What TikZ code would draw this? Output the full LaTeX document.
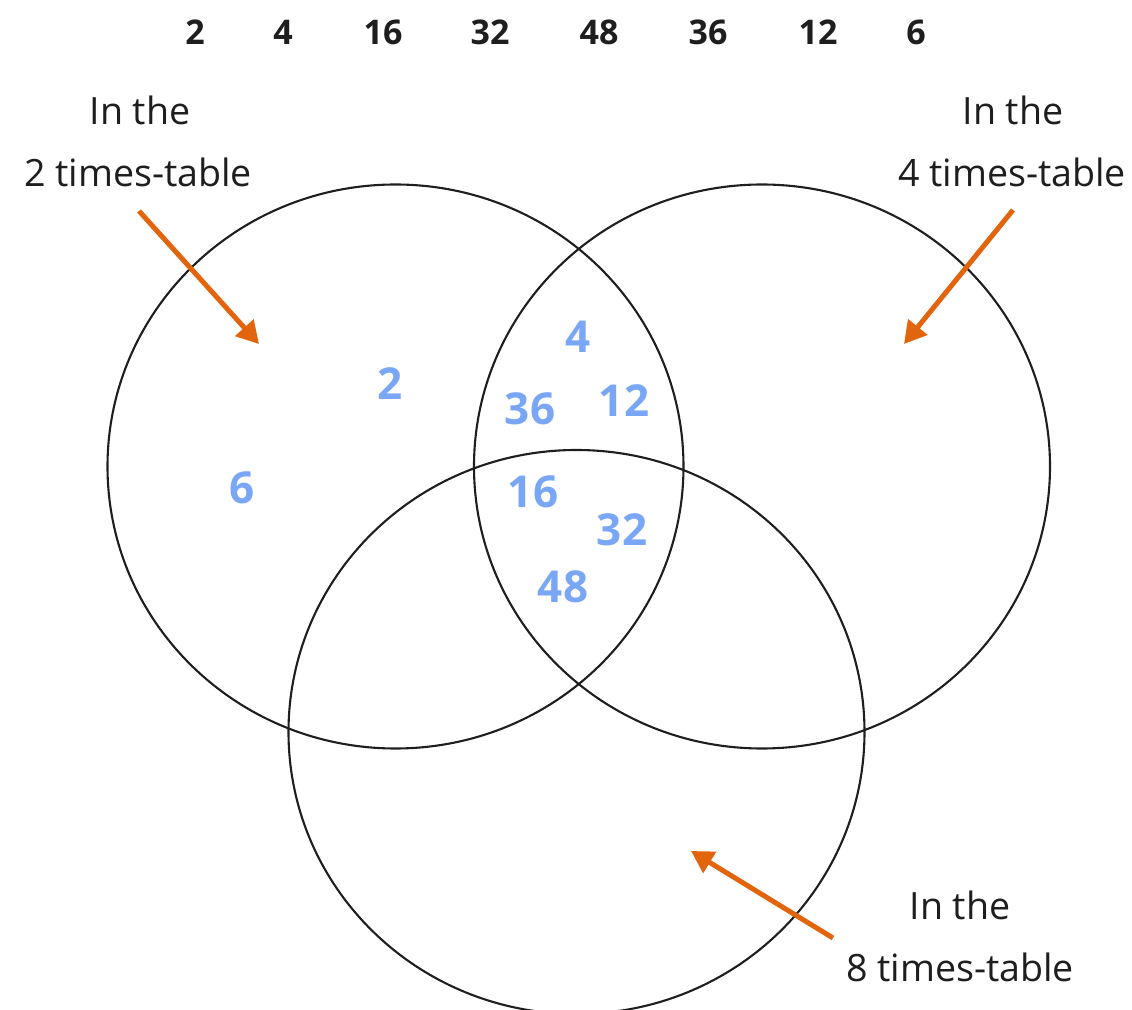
\documentclass[tikz,border=0pt]{standalone}
\usepackage{fontspec}
\setmainfont{Open Sans}
\usetikzlibrary{arrows.meta}
\definecolor{arrorange}{RGB}{226,100,12}
\definecolor{handblue}{RGB}{122,167,245}
\definecolor{ink}{RGB}{30,30,30}
\tikzset{
  vennline/.style={draw=ink, line width=1.05pt},
  toplbl/.style={font=\fontsize{17}{20}\selectfont\bfseries, text=ink, inner sep=0pt},
  setlbl/.style={font=\fontsize{18.8}{22}\selectfont, text=ink, inner sep=0pt},
  hand/.style={font=\fontsize{22}{26}\selectfont\bfseries, text=handblue, inner sep=0pt},
  pointer/.style={draw=arrorange, line width=2.5pt, -{Triangle[length=11pt,width=12pt]}},
}
\begin{document}
\begin{tikzpicture}[x=0.5pt,y=-0.5pt]
\clip (0,0) rectangle (1132,1010);
\fill[white] (0,0) rectangle (1132,1010);
% circles
\draw[vennline] (395.5,466.5) ellipse [x radius=144pt, y radius=141pt];
\draw[vennline] (762,466.5) ellipse [x radius=144pt, y radius=141pt];
\draw[vennline] (576.5,732) ellipse [x radius=144pt, y radius=141pt];
% top numbers
\node[toplbl] (t1) at (195,32) {2};
\node[toplbl] (t2) at (283,32) {4};
\node[toplbl] (t3) at (383,32) {16};
\node[toplbl] (t4) at (490,32) {32};
\node[toplbl] (t5) at (599,32) {48};
\node[toplbl] (t6) at (708,32) {36};
\node[toplbl] (t7) at (818,32) {12};
\node[toplbl] (t8) at (916,32) {6};
% set labels
\node[setlbl] (l2a) at (140,110) {In the};
\node[setlbl] (l2b) at (138,172) {2 times-table};
\node[setlbl] (l4a) at (1013,110) {In the};
\node[setlbl] (l4b) at (1012,172) {4 times-table};
\node[setlbl] (l8a) at (960,905) {In the};
\node[setlbl] (l8b) at (960,967) {8 times-table};
% arrows
\coordinate (a1s) at (139,211); \coordinate (a1e) at (259,344);
\coordinate (a2s) at (1013,210); \coordinate (a2e) at (904,344);
\coordinate (a3s) at (833,938); \coordinate (a3e) at (691,851);
\draw[pointer] (a1s) -- (a1e);
\draw[pointer] (a2s) -- (a2e);
\draw[pointer] (a3s) -- (a3e);
% handwritten numbers
\node[hand] (h2) at (390,384) {2};
\node[hand] (h6) at (242,488) {6};
\node[hand] (h4) at (578,337) {4};
\node[hand] (h36) at (530,409) {36};
\node[hand] (h12) at (624,401) {12};
\node[hand] (h16) at (533,492) {16};
\node[hand] (h32) at (622,530) {32};
\node[hand] (h48) at (563,587) {48};
\end{tikzpicture}
\end{document}
